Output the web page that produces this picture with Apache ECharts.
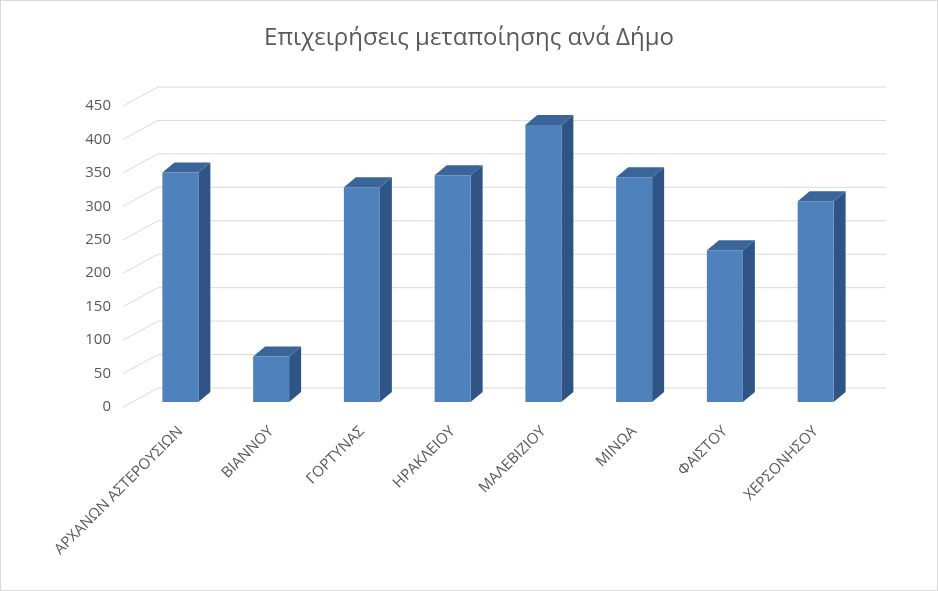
<!DOCTYPE html><html><head><meta charset="utf-8"><script src="https://cdn.jsdelivr.net/npm/echarts@6/dist/echarts.min.js"></script></head><body style="margin:0"><div id="c" style="width:938px;height:591px;box-sizing:border-box;border:1px solid #d9d9d9"></div><script>
const categories=['ΑΡΧΑΝΩΝ ΑΣΤΕΡΟΥΣΙΩΝ','ΒΙΑΝΝΟΥ','ΓΟΡΤΥΝΑΣ','ΗΡΑΚΛΕΙΟΥ','ΜΑΛΕΒΙΖΙΟΥ','ΜΙΝΩΑ','ΦΑΙΣΤΟΥ','ΧΕΡΣΟΝΗΣΟΥ'];
const values=[343,68,321,339,414,336,227,300];
const yTicks=[0,50,100,150,200,250,300,350,400,450];
const chart=echarts.init(document.getElementById('c'));
const W=36,DX=12,DY=-10,OFF=-5;
chart.setOption({
 title:{text:'Επιχειρήσεις μεταποίησης ανά Δήμο',left:'center',top:20,textStyle:{fontFamily:'Open Sans',fontSize:24,fontWeight:'normal',color:'#595959'}},
 grid:{left:134,right:76,top:105,bottom:183},
 xAxis:{type:'category',data:categories,axisLine:{show:false},axisTick:{show:false},
  axisLabel:{rotate:45,interval:0,color:'#595959',fontSize:15,fontFamily:'Open Sans',margin:22}},
 yAxis:{type:'value',min:0,max:450,interval:50,splitLine:{show:false},axisLabel:{color:'#595959',fontSize:15,fontFamily:'Open Sans',margin:24}},
 series:[{type:'custom',data:values.map((v,i)=>[i,v]),renderItem:(p,api)=>{
   const b=api.coord([api.value(0),0]),t=api.coord([api.value(0),api.value(1)]);
   const x0=b[0]-W/2,x1=b[0]+W/2,yb=b[1]+OFF,yt=t[1]+OFF;
   return {type:'group',children:[
    {type:'polygon',shape:{points:[[x1,yb],[x1+DX,yb+DY],[x1+DX,yt+DY],[x1,yt]]},style:{fill:'#2f5586'}},
    {type:'polygon',shape:{points:[[x0,yt],[x1,yt],[x1+DX,yt+DY],[x0+DX,yt+DY]]},style:{fill:'#3b6599'}},
    {type:'rect',shape:{x:x0,y:yt,width:W,height:yb-yt},style:{fill:'#4f81bd'}}]};
 }}]
});
const g=[];
yTicks.forEach(v=>{const y=chart.convertToPixel({yAxisIndex:0},v);
 g.push({type:'polyline',z:-1,shape:{points:[[122,y],[157,y-19],[885,y-19]]},style:{stroke:'#d9d9d9',lineWidth:1,fill:null}});});
chart.setOption({graphic:g});
</script></body></html>
